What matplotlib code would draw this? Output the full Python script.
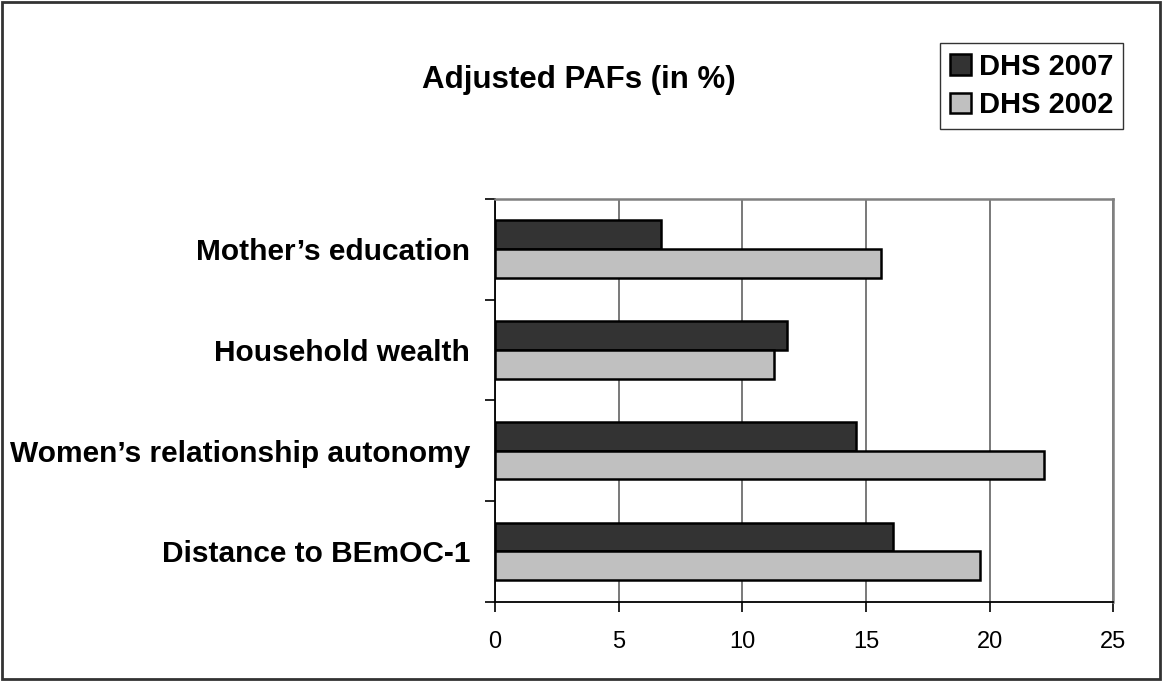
import numpy as np
import matplotlib
matplotlib.use("Agg")
import matplotlib.pyplot as plt
from matplotlib.patches import Rectangle

plt.rcParams['font.family'] = ['Liberation Sans', 'DejaVu Sans']

# categories listed bottom to top, as Excel draws them
categories = ["Distance to BEmOC-1", "Women\u2019s relationship autonomy",
              "Household wealth", "Mother\u2019s education"]
dhs_2007 = [16.1, 14.6, 11.8, 6.7]
dhs_2002 = [19.6, 22.2, 11.3, 15.6]
x_ticks = [0, 5, 10, 15, 20, 25]

fig = plt.figure(figsize=(11.62, 6.81), dpi=100)
ax = fig.add_axes([0.426, 0.1167, 0.532, 0.5913])

y = np.arange(len(categories))
h = 0.285
ax.barh(y + h / 2, dhs_2007, height=h, color='#333333', edgecolor='black',
        linewidth=1.8, label='DHS 2007', zorder=3)
ax.barh(y - h / 2, dhs_2002, height=h, color='#C0C0C0', edgecolor='black',
        linewidth=1.8, label='DHS 2002', zorder=3)

ax.set_xlim(0, 25)
ax.set_ylim(-0.5, len(categories) - 0.5)
ax.set_xticks(x_ticks)
ax.set_xticklabels([str(t) for t in x_ticks], fontsize=17)
ax.set_yticks(y)
ax.set_yticklabels(categories, fontsize=21.5, fontweight='bold')
ax.set_yticks(np.arange(len(categories) + 1) - 0.5, minor=True)

ax.tick_params(axis='y', which='major', length=0, pad=18)
ax.tick_params(axis='y', which='minor', length=7, width=1.2, direction='out')
ax.tick_params(axis='x', length=7, width=1.2, direction='out', pad=14)

ax.xaxis.grid(True, color='#555555', linewidth=1.1, zorder=0)
ax.set_axisbelow(True)

for side in ['left', 'bottom']:
    ax.spines[side].set_color('black')
    ax.spines[side].set_linewidth(1.3)
for side in ['top', 'right']:
    ax.spines[side].set_color('#808080')
    ax.spines[side].set_linewidth(1.8)

fig.text(0.498, 0.8825, "Adjusted PAFs (in %)", fontsize=22.5,
         fontweight='bold', ha='center', va='center')

leg = fig.legend(loc='upper right', bbox_to_anchor=(1123 / 1162, 1 - 43 / 681),
                 prop={'size': 21, 'weight': 'bold'}, frameon=True, fancybox=False,
                 handlelength=0.72, handleheight=0.72, handletextpad=0.27,
                 borderpad=0.34, labelspacing=0.35, borderaxespad=0)
leg.get_frame().set_edgecolor('black')
leg.get_frame().set_linewidth(1.0)

fig.patches.append(Rectangle((0.002, 0.003), 0.996, 0.994, transform=fig.transFigure,
                             fill=False, edgecolor='#333333', linewidth=2))

fig.savefig("out.png", dpi=100)
